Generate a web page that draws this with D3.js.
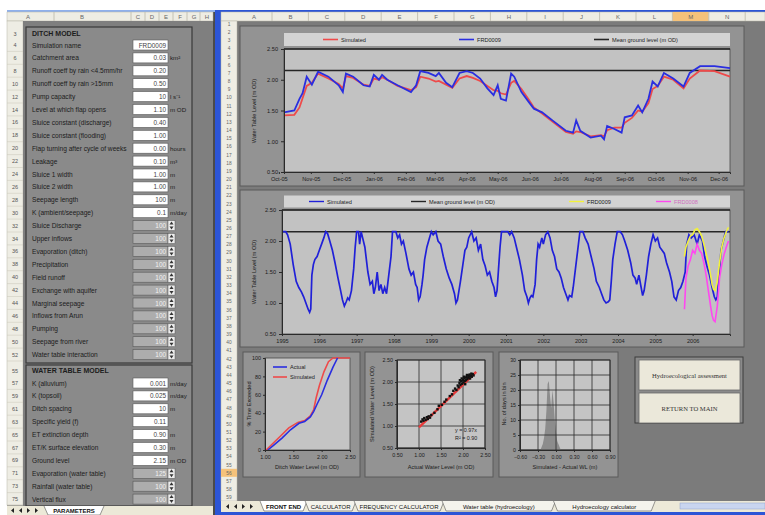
<!DOCTYPE html>
<html>
<head>
<meta charset="utf-8">
<script src="https://cdn.jsdelivr.net/npm/d3@7"></script>
<style>
  body { margin: 0; background: #ffffff; }
  svg { display: block; font-family: "Liberation Sans", Arial, sans-serif; }
</style>
</head>
<body>
<svg id="sheet" width="765" height="515"></svg>
<script>
// ---------------- data ----------------

// left sheet: ditch model parameters
var ditchLabels = ["Simulation name", "Catchment area", "Runoff coeff by rain <4.5mm/hr", "Runoff coeff by rain >15mm",
  "Pump capacity", "Level at which flap opens", "Sluice constant (discharge)", "Sluice constant (flooding)",
  "Flap turning after cycle of weeks", "Leakage", "Sluice 1 width", "Sluice 2 width", "Seepage length",
  "K (ambient/seepage)", "Sluice Discharge", "Upper inflows", "Evaporation (ditch)", "Precipitation",
  "Field runoff", "Exchange with aquifer", "Marginal seepage", "Inflows from Arun", "Pumping",
  "Seepage from river", "Water table interaction"];
var ditchValues = ["FRD0009", "0.03", "0.20", "0.50", "10", "1.10", "0.40", "1.00", "0.00", "0.10", "1.00", "1.00",
  "100", "0.1", "100", "100", "100", "100", "100", "100", "100", "100", "100", "100", "100"];
var ditchUnits = ["", "km\u00b2", "", "", "l s\u207b\u00b9", "m OD", "", "", "hours", "m\u00b3", "m", "m", "m", "m/day",
  "", "", "", "", "", "", "", "", "", "", ""];
var ditchSpinFrom = 14;

// left sheet: water table model parameters
var wtLabels = ["K (alluvium)", "K (topsoil)", "Ditch spacing", "Specific yield (f)", "ET extinction depth",
  "ET/K surface elevation", "Ground level", "Evaporation (water table)", "Rainfall (water table)", "Vertical flux"];
var wtValues = ["0.001", "0.025", "10", "0.11", "0.90", "0.30", "2.15", "125", "100", "100"];
var wtUnits = ["m/day", "m/day", "m", "", "m", "m", "m OD", "", "", ""];
var wtSpinFrom = 7;

var groundLevel = 2.15;

// chart 1: Oct-05 .. Dec-06
var recentDates = ["2005-10-06", "2005-10-16", "2005-10-21", "2005-10-24", "2005-10-28", "2005-11-02", "2005-11-08",
  "2005-11-18", "2005-11-28", "2005-12-02", "2005-12-05", "2005-12-12", "2005-12-22", "2005-12-28", "2006-01-01",
  "2006-01-06", "2006-01-09", "2006-01-14", "2006-01-24", "2006-02-06", "2006-02-11", "2006-02-15", "2006-02-23",
  "2006-03-02", "2006-03-05", "2006-03-12", "2006-03-18", "2006-03-25", "2006-04-01", "2006-04-07", "2006-04-14",
  "2006-04-21", "2006-04-27", "2006-05-01", "2006-05-04", "2006-05-09", "2006-05-14", "2006-05-17", "2006-05-24",
  "2006-05-31", "2006-06-05", "2006-06-13", "2006-06-23", "2006-07-06", "2006-07-13", "2006-07-16", "2006-07-20",
  "2006-07-30", "2006-08-09", "2006-08-12", "2006-08-15", "2006-08-22", "2006-08-29", "2006-09-01", "2006-09-08",
  "2006-09-14", "2006-09-18", "2006-09-24", "2006-09-28", "2006-10-03", "2006-10-09", "2006-10-18", "2006-10-28",
  "2006-11-03", "2006-11-13", "2006-11-27", "2006-12-12"];
var recentObserved = [1.47, 1.50, 1.69, 1.78, 2.05, 1.92, 2.13, 2.05, 1.91, 1.80, 2.10, 2.05, 1.91, 1.89, 2.08,
  2.00, 2.08, 2.00, 1.91, 1.80, 1.91, 2.14, 2.11, 2.06, 2.11, 1.95, 1.88, 2.11, 2.14, 2.11, 2.02,
  1.86, 1.75, 1.91, 1.69, 1.66, 2.10, 2.05, 1.80, 1.64, 1.53, 1.47, 1.34, 1.17, 1.14, 1.34, 1.17,
  1.06, 1.09, 1.03, 1.25, 1.20, 1.14, 1.39, 1.42, 1.58, 1.47, 1.69, 1.97, 1.89, 2.11, 2.02, 1.89,
  2.11, 2.22, 2.22, 2.19];
var recentSimulated = [1.42, 1.43, 1.55, 1.70, 1.90, 1.95, 2.10, 2.02, 1.93, 1.86, 2.06, 2.03, 1.92, 1.90, 2.02,
  2.00, 2.04, 2.00, 1.90, 1.83, 1.88, 2.05, 2.02, 1.97, 1.98, 1.92, 1.87, 2.02, 2.06, 2.03, 1.98,
  1.90, 1.83, 1.82, 1.78, 1.76, 1.95, 1.98, 1.85, 1.68, 1.55, 1.45, 1.32, 1.15, 1.12, 1.16, 1.15,
  1.08, 1.10, 1.08, 1.18, 1.22, 1.22, 1.30, 1.38, 1.50, 1.48, 1.62, 1.85, 1.90, 2.05, 2.00, 1.86,
  2.02, 2.15, 2.14, 2.05];

// chart 2: long simulation 1995 .. 2006 (decimal years)
var longYears = [1995.00, 1995.10, 1995.15, 1995.22, 1995.30, 1995.38, 1995.45, 1995.52, 1995.58, 1995.64, 1995.70,
  1995.74, 1995.77, 1995.80, 1995.84, 1995.88, 1995.94, 1996.00, 1996.06, 1996.12, 1996.17, 1996.22, 1996.28,
  1996.35, 1996.42, 1996.50, 1996.57, 1996.62, 1996.67, 1996.72, 1996.76, 1996.80, 1996.86, 1996.92, 1996.96,
  1997.00, 1997.05, 1997.08, 1997.12, 1997.16, 1997.22, 1997.30, 1997.36, 1997.42, 1997.46, 1997.50, 1997.55,
  1997.60, 1997.65, 1997.70, 1997.75, 1997.80, 1997.86, 1997.92, 1997.96, 1998.05, 1998.10, 1998.15, 1998.20,
  1998.25, 1998.32, 1998.40, 1998.46, 1998.52, 1998.58, 1998.62, 1998.66, 1998.70, 1998.75, 1998.78, 1998.82,
  1998.88, 1998.95, 1999.00, 1999.05, 1999.12, 1999.18, 1999.25, 1999.32, 1999.40, 1999.48, 1999.55, 1999.62,
  1999.66, 1999.70, 1999.74, 1999.78, 1999.84, 1999.90, 1999.95, 2000.00, 2000.08, 2000.14, 2000.20, 2000.26,
  2000.32, 2000.38, 2000.44, 2000.50, 2000.56, 2000.62, 2000.68, 2000.72, 2000.76, 2000.80, 2000.84, 2000.88,
  2000.95, 2001.05, 2001.10, 2001.15, 2001.22, 2001.28, 2001.36, 2001.44, 2001.50, 2001.56, 2001.60, 2001.64,
  2001.68, 2001.72, 2001.78, 2001.82, 2001.86, 2001.90, 2001.96, 2002.00, 2002.06, 2002.12, 2002.18, 2002.24,
  2002.30, 2002.36, 2002.42, 2002.48, 2002.54, 2002.60, 2002.66, 2002.70, 2002.76, 2002.80, 2002.86, 2002.92,
  2002.98, 2003.06, 2003.12, 2003.20, 2003.28, 2003.36, 2003.42, 2003.50, 2003.56, 2003.62, 2003.68, 2003.74,
  2003.78, 2003.82, 2003.86, 2003.92, 2003.98, 2004.06, 2004.12, 2004.18, 2004.26, 2004.34, 2004.40, 2004.46,
  2004.50, 2004.56, 2004.62, 2004.66, 2004.70, 2004.76, 2004.82, 2004.88, 2004.94, 2005.00, 2005.06, 2005.12,
  2005.18, 2005.24, 2005.30, 2005.38, 2005.44, 2005.50, 2005.56, 2005.62, 2005.68, 2005.74, 2005.80, 2005.84,
  2005.90, 2005.96, 2006.04, 2006.12, 2006.18, 2006.26, 2006.32, 2006.38, 2006.45, 2006.52, 2006.58, 2006.62,
  2006.66, 2006.70, 2006.76, 2006.82, 2006.88, 2006.96];
var longSimulated = [2.15, 2.15, 2.10, 1.95, 1.62, 1.35, 1.25, 1.18, 1.10, 1.00, 0.90,
  0.85, 0.90, 1.45, 1.62, 1.70, 1.75, 1.85, 1.95, 2.05, 2.15, 2.12, 2.00,
  1.85, 1.65, 1.40, 1.20, 1.05, 0.95, 1.02, 1.08, 1.05, 1.20, 1.55, 1.90,
  2.15, 2.15, 1.95, 2.15, 2.05, 1.90, 1.50, 1.30, 1.35, 1.15, 1.25, 1.50,
  1.20, 1.30, 1.15, 1.25, 1.15, 1.45, 1.75, 2.15, 2.15, 2.05, 2.10, 1.95,
  2.00, 1.80, 1.55, 1.45, 1.50, 1.30, 1.25, 1.05, 1.10, 1.30, 1.45, 1.70,
  1.90, 2.05, 2.15, 2.10, 2.15, 2.00, 1.95, 1.75, 1.55, 1.40, 1.30, 1.15,
  1.00, 1.05, 1.20, 1.35, 1.60, 1.85, 1.90, 2.05, 2.15, 2.00, 2.05, 1.85,
  1.95, 1.70, 1.60, 1.45, 1.50, 1.35, 1.25, 1.10, 1.20, 1.55, 1.90, 2.15,
  2.15, 2.15, 2.10, 2.15, 2.05, 1.90, 1.70, 1.45, 1.20, 1.10, 1.00, 1.08,
  1.12, 1.10, 1.30, 1.70, 1.95, 1.90, 2.05, 1.95, 2.10, 2.15, 2.05, 1.85,
  1.75, 1.55, 1.50, 1.40, 1.25, 1.15, 1.05, 1.12, 1.10, 1.25, 1.55, 1.85,
  2.15, 2.15, 2.05, 1.95, 1.75, 1.55, 1.35, 1.25, 1.15, 1.05, 1.00, 1.02,
  1.05, 1.35, 1.70, 1.95, 2.15, 2.15, 2.10, 2.00, 1.85, 1.65, 1.45, 1.40,
  1.30, 1.45, 1.25, 1.12, 1.20, 1.45, 1.75, 1.95, 2.10, 2.00, 2.05, 1.90,
  1.85, 1.80, 1.65, 1.50, 1.35, 1.10, 1.05, 1.20, 1.25, 1.35, 1.50, 1.95,
  2.10, 2.05, 2.10, 1.95, 2.10, 2.00, 1.75, 1.60, 1.45, 1.25, 1.10, 1.05,
  1.10, 1.40, 1.85, 2.00, 2.15, 2.15];
var boreYears = [2005.78, 2005.82, 2005.88, 2005.94, 2006.00, 2006.06, 2006.12, 2006.18, 2006.24, 2006.30, 2006.36,
  2006.42, 2006.48, 2006.52, 2006.56, 2006.60, 2006.66, 2006.72, 2006.78, 2006.84, 2006.90, 2006.96];
var boreA = [1.75, 1.90, 2.00, 2.08, 2.10, 2.18, 2.20, 2.15, 2.08, 1.95, 1.80,
  1.65, 1.45, 1.30, 1.22, 1.20, 1.35, 1.65, 1.90, 2.05, 2.15, 2.22];
var boreB = [0.90, 1.40, 1.60, 1.70, 1.85, 1.80, 1.95, 1.85, 1.80, 1.65, 1.45,
  1.20, 0.95, 0.80, 0.72, 0.70, 0.95, 1.40, 1.62, 1.78, 1.90, 2.00];

// chart 3: exceedance curves
var excActualLevel = [1.05, 1.15, 1.30, 1.45, 1.60, 1.70, 1.80, 1.86, 1.92, 2.00, 2.10, 2.20, 2.28];
var excActualPct = [0, 5, 13, 22, 29, 31, 36, 42, 50, 60, 76, 90, 100];
var excSimLevel = [1.02, 1.12, 1.27, 1.42, 1.58, 1.70, 1.80, 1.86, 1.90, 1.96, 2.04, 2.12, 2.20, 2.50];
var excSimPct = [0, 6, 15, 24, 30, 32, 37, 44, 56, 70, 85, 96, 100, 100];

// chart 4: actual vs simulated scatter
var scatActual = [1.05, 1.08, 1.10, 1.12, 1.15, 1.18, 1.20, 1.22, 1.25, 1.28, 1.35, 1.42, 1.45, 1.52, 1.58, 1.62,
  1.70, 1.75, 1.78, 1.82, 1.85, 1.88, 1.90, 1.92, 1.94, 1.96, 1.98, 2.00, 2.01, 2.03, 2.04, 2.06, 2.07, 2.08,
  2.10, 2.11, 2.12, 2.14, 2.15, 2.16, 2.18, 2.19, 2.20, 2.22, 2.24, 1.97, 2.02, 2.05, 1.93, 2.09];
var scatSimulated = [1.10, 1.15, 1.12, 1.18, 1.14, 1.20, 1.16, 1.22, 1.19, 1.25, 1.30, 1.38, 1.46, 1.48, 1.55, 1.60,
  1.68, 1.72, 1.80, 1.85, 1.82, 1.92, 1.88, 1.98, 1.93, 2.02, 1.96, 2.05, 1.99, 2.08, 2.02, 2.10, 2.04, 2.12,
  2.07, 2.15, 2.10, 2.13, 2.17, 2.08, 2.14, 2.19, 2.12, 2.18, 2.15, 2.08, 2.12, 1.95, 2.04, 2.16];
var fitSlope = 0.97;
var fitRange = [1.0, 2.3];

// chart 5: residual histogram
var residBins = [-0.26, -0.24, -0.22, -0.20, -0.18, -0.16, -0.14, -0.12, -0.10, -0.08, -0.06, -0.04, -0.02,
  0.00, 0.02, 0.04, 0.06, 0.08];
var residCounts = [0, 1, 2, 4, 7, 13, 22, 23, 18, 14, 20, 16, 10, 6, 3, 2, 1, 0];

// sheet furniture
var rightCols = ["A", "B", "C", "D", "E", "F", "G", "H", "I", "J", "K", "L", "M", "N"];
var leftCols = ["A", "B", "C", "D", "E", "F", "G", "H"];
var tabNames = ["FRONT END", "CALCULATOR", "FREQUENCY CALCULATOR", "Water table (hydroecology)", "Hydroecology calculator"];

// ---------------- drawing ----------------
var svg = d3.select("#sheet");
var parseDate = d3.timeParse("%Y-%m-%d");

function rect(g, x, y, w, h, fill, stroke, sw) {
  return g.append("rect")
    .attr("x", x).attr("y", y).attr("width", w).attr("height", h)
    .attr("fill", fill)
    .attr("stroke", stroke || "none")
    .attr("stroke-width", sw || 1);
}

function text(g, x, y, t, size, anchor, color, weight) {
  return g.append("text")
    .attr("x", x).attr("y", y)
    .attr("font-size", size)
    .attr("text-anchor", anchor || "start")
    .attr("fill", color || "#1c1c1c")
    .attr("font-weight", weight || "normal")
    .text(t);
}

function styleAxis(sel, size) {
  sel.attr("font-size", size).attr("font-family", null);
  sel.selectAll("text").attr("fill", "#1c1c1c");
  sel.selectAll("line").attr("stroke", "#2a2a2a");
  sel.select(".domain").attr("stroke", "#2a2a2a");
}

// ---------- windows ----------
rect(svg, 7, 10, 208, 505, "#7d7d7d");
rect(svg, 7, 10, 208, 2, "#8fb0ec");
rect(svg, 216, 10, 549, 505, "#7b7b7b");
rect(svg, 216, 10, 549, 2, "#2c55d6");
rect(svg, 215, 10, 6, 505, "#2c55d6");
rect(svg, 213, 12, 2, 503, "#4a4a4a");

// left column headers + row headers
var lh = svg.append("g");
rect(lh, 7, 12, 206, 9, "#eeede4", "#b8b6a8", 0.5);
rect(lh, 7, 21, 16, 484, "#eeede4", "#b8b6a8", 0.5);
var leftColX = [28, 82, 138, 152, 166, 180, 194, 207];
leftCols.forEach(function(c, i) {
  text(lh, leftColX[i], 19, c, 6, "middle", "#666");
  if (i > 0) lh.append("line").attr("x1", leftColX[i] - (i == 1 ? 28 : 7)).attr("x2", leftColX[i] - (i == 1 ? 28 : 7))
    .attr("y1", 12).attr("y2", 21).attr("stroke", "#c4c2b4");
});

// right column headers + row headers
var rh = svg.append("g");
rect(rh, 221, 12, 544, 9, "#eeede4", "#b8b6a8", 0.5);
rect(rh, 221, 21, 16, 480, "#eeede4", "#b8b6a8", 0.5);
rightCols.forEach(function(c, i) {
  var cx = 254 + i * 36.4;
  if (c == "M") rect(rh, cx - 18, 12, 36, 9, "#f5c27a");
  rh.append("line").attr("x1", cx + 18).attr("x2", cx + 18).attr("y1", 12).attr("y2", 21).attr("stroke", "#c4c2b4");
  text(rh, cx, 19, c, 6, "middle", "#666");
});
d3.range(1, 60).forEach(function(r) {
  var ry = 24 + (r - 1) * 8.16;
  if (r == 56) rect(rh, 221, ry - 4, 16, 8, "#f5c27a");
  text(rh, 229, ry + 2, r, 4.8, "middle", "#666");
});

// ---------- left parameter panels ----------
var lp = svg.append("g");
rect(lp, 23, 21, 190, 484, "#7f7f7f");
rect(lp, 26, 27, 166, 336, "#8a8a8a", "#3a3a3a", 1.2);
rect(lp, 26, 365, 166, 141, "#8a8a8a", "#3a3a3a", 1.2);
text(lp, 32, 36, "DITCH MODEL", 7, "start", "#1c1c1c", "bold");
text(lp, 32, 373, "WATER TABLE MODEL", 7, "start", "#1c1c1c", "bold");
text(lp, 15, 36, 3, 5.5, "middle", "#555");
text(lp, 15, 373, 55, 5.5, "middle", "#555");

function paramRows(labels, values, units, top, spinFrom, firstRow) {
  labels.forEach(function(t, i) {
    var ry = top + i * 12.9;
    var spin = i >= spinFrom;
    text(lp, 15, ry + 2, firstRow + 2 * i, 5.5, "middle", "#555");
    lp.append("line").attr("x1", 7).attr("x2", 23).attr("y1", ry + 6.4).attr("y2", ry + 6.4).attr("stroke", "#c9c7b9").attr("stroke-width", 0.5);
    text(lp, 32, ry + 2.5, t, 6.6, "start", "#1c1c1c");
    rect(lp, 133, ry - 5, 35, 10, spin ? "#adadad" : "#ffffff", "#5a5a5a", 0.6);
    text(lp, 166, ry + 2.5, values[i], 6.4, "end", spin ? "#f2f2f2" : "#444");
    if (spin) {
      rect(lp, 168, ry - 5, 7, 10, "#eeeeee", "#5a5a5a", 0.5);
      lp.append("path").attr("d", "M169.5," + (ry - 1) + "l2,-3l2,3z").attr("fill", "#333");
      lp.append("path").attr("d", "M169.5," + (ry + 1) + "l2,3l2,-3z").attr("fill", "#333");
    }
    if (units[i]) text(lp, 170, ry + 2.5, units[i], 6.2, "start", "#1c1c1c");
  });
}
paramRows(ditchLabels, ditchValues, ditchUnits, 45, ditchSpinFrom, 4);
paramRows(wtLabels, wtValues, wtUnits, 383, wtSpinFrom, 57);

// left tab bar
var lt = svg.append("g");
rect(lt, 7, 506, 206, 9, "#ece9d8");
[11, 19, 27, 35].forEach(function(ax, i) {
  lt.append("path").attr("d", i < 2 ? "M" + (ax + 3) + ",508l-3,2.5l3,2.5z" : "M" + ax + ",508l3,2.5l-3,2.5z").attr("fill", "#222");
});
lt.append("path").attr("d", "M44,506l4,9h52l4,-9").attr("fill", "#ffffff").attr("stroke", "#555").attr("stroke-width", 0.6);
text(lt, 74, 513, "PARAMETERS", 6, "middle", "#111", "bold");

// ---------- chart 1: recent period ----------
var c1 = svg.append("g");
rect(c1, 240, 26, 504, 160, "#939393", "#5a5a5a", 1);
rect(c1, 284, 33, 446, 13, "#d3d3d3");
rect(c1, 284, 49, 446, 123, "#c2c2c2", "#4a4a4a", 0.8);

var x1 = d3.scaleTime()
  .domain([parseDate("2005-10-06"), parseDate("2006-12-12")])
  .range([284, 730]);
var y1 = d3.scaleLinear().domain([0.5, 2.5]).range([172, 49]);

var recent = recentDates.map(function(d, i) {
  return { date: parseDate(d), obs: recentObserved[i], sim: recentSimulated[i] };
});

c1.append("line").attr("x1", 284).attr("x2", 730).attr("y1", y1(2.5)).attr("y2", y1(2.5))
  .attr("stroke", "#222").attr("stroke-width", 1.5);
c1.append("line").attr("x1", 284).attr("x2", 730).attr("y1", y1(groundLevel)).attr("y2", y1(groundLevel))
  .attr("stroke", "#262626").attr("stroke-width", 1.4);

c1.append("path").datum(recent)
  .attr("d", d3.line().x(d => x1(d.date)).y(d => y1(d.sim)))
  .attr("fill", "none").attr("stroke", "#ee4a4a").attr("stroke-width", 1.8);
c1.append("path").datum(recent)
  .attr("d", d3.line().x(d => x1(d.date)).y(d => y1(d.obs)))
  .attr("fill", "none").attr("stroke", "#2a2ee0").attr("stroke-width", 1.8);

var ax1 = c1.append("g").attr("transform", "translate(0,172)")
  .call(d3.axisBottom(x1)
    .tickValues(d3.timeMonth.range(parseDate("2005-10-01"), parseDate("2006-12-02")))
    .tickFormat(d3.timeFormat("%b-%y")).tickSize(2).tickPadding(3));
styleAxis(ax1, 5.6);
var ay1 = c1.append("g").attr("transform", "translate(284,0)")
  .call(d3.axisLeft(y1).tickValues([0.5, 1, 1.5, 2, 2.5]).tickFormat(d3.format(".2f")).tickSize(3).tickPadding(3));
styleAxis(ay1, 5.6);
text(c1, 0, 0, "Water Table Level (m OD)", 5.6, "middle")
  .attr("transform", "translate(256,111) rotate(-90)");

// legend
[[323, "#ee4a4a", "Simulated"], [459, "#2a2ee0", "FRD0009"], [594, "#262626", "Mean ground level (m OD)"]].forEach(function(l) {
  c1.append("line").attr("x1", l[0]).attr("x2", l[0] + 15).attr("y1", 39.5).attr("y2", 39.5)
    .attr("stroke", l[1]).attr("stroke-width", 1.6);
  text(c1, l[0] + 18, 41.5, l[2], 5.6);
});

// ---------- chart 2: long simulation ----------
var c2 = svg.append("g");
rect(c2, 240, 190, 504, 157, "#939393", "#5a5a5a", 1);
rect(c2, 284, 195.5, 446, 12, "#d3d3d3");
rect(c2, 282, 210, 448, 124, "#c2c2c2", "#4a4a4a", 0.8);

var x2 = d3.scaleLinear().domain([1995, 2007]).range([282, 730]);
var y2 = d3.scaleLinear().domain([0.5, 2.5]).range([334, 210]);

c2.append("line").attr("x1", 282).attr("x2", 730).attr("y1", y2(2.5)).attr("y2", y2(2.5))
  .attr("stroke", "#222").attr("stroke-width", 1.5);
c2.append("line").attr("x1", 282).attr("x2", 730).attr("y1", y2(groundLevel)).attr("y2", y2(groundLevel))
  .attr("stroke", "#262626").attr("stroke-width", 1.4);

var lineLong = d3.line().x(d => x2(d[0])).y(d => y2(d[1]));
c2.append("path").datum(d3.zip(longYears, longSimulated))
  .attr("d", lineLong).attr("fill", "none").attr("stroke", "#2020d8").attr("stroke-width", 1.7);
c2.append("path").datum(d3.zip(boreYears, boreB))
  .attr("d", lineLong).attr("fill", "none").attr("stroke", "#ff48f0").attr("stroke-width", 1.6);
c2.append("path").datum(d3.zip(boreYears, boreA))
  .attr("d", lineLong).attr("fill", "none").attr("stroke", "#f2f23a").attr("stroke-width", 1.6);

var ax2 = c2.append("g").attr("transform", "translate(0,334)")
  .call(d3.axisBottom(x2).tickValues(d3.range(1995, 2007)).tickFormat(d3.format("d")).tickSize(2).tickPadding(3));
styleAxis(ax2, 5.6);
var ay2 = c2.append("g").attr("transform", "translate(282,0)")
  .call(d3.axisLeft(y2).tickValues([0.5, 1, 1.5, 2, 2.5]).tickFormat(d3.format(".2f")).tickSize(3).tickPadding(3));
styleAxis(ay2, 5.6);
text(c2, 0, 0, "Water Table Level (m OD)", 5.6, "middle")
  .attr("transform", "translate(256,272) rotate(-90)");

[[309, "#2020d8", "Simulated", "#1c1c1c"], [411, "#262626", "Mean ground level (m OD)", "#1c1c1c"],
 [569, "#f2f23a", "FRD0009", "#1c1c1c"], [656, "#ff48f0", "FRD0008", "#d070c0"]].forEach(function(l) {
  c2.append("line").attr("x1", l[0]).attr("x2", l[0] + 15).attr("y1", 201.5).attr("y2", 201.5)
    .attr("stroke", l[1]).attr("stroke-width", 1.4);
  text(c2, l[0] + 18, 203.5, l[2], 5.6, "start", l[3]);
});

// ---------- chart 3: exceedance ----------
var c3 = svg.append("g");
rect(c3, 243, 352, 117, 125, "#939393", "#5a5a5a", 1);
var x3 = d3.scaleLinear().domain([1, 2.5]).range([265, 350]);
var y3 = d3.scaleLinear().domain([0, 100]).range([450, 358]);
rect(c3, 265, 358, 85, 92, "#c4c4c4", "#4a4a4a", 0.8);
var lineExc = d3.line().x(d => x3(d[0])).y(d => y3(d[1]));
c3.append("path").datum(d3.zip(excSimLevel, excSimPct))
  .attr("d", lineExc).attr("fill", "none").attr("stroke", "#ee4a4a").attr("stroke-width", 1.6);
c3.append("path").datum(d3.zip(excActualLevel, excActualPct))
  .attr("d", lineExc).attr("fill", "none").attr("stroke", "#2a2ee0").attr("stroke-width", 1.6);
var ax3 = c3.append("g").attr("transform", "translate(0,450)")
  .call(d3.axisBottom(x3).tickValues([1, 1.5, 2, 2.5]).tickFormat(d3.format(".2f")).tickSize(2).tickPadding(3));
styleAxis(ax3, 5.4);
var ay3 = c3.append("g").attr("transform", "translate(265,0)")
  .call(d3.axisLeft(y3).tickValues([0, 20, 40, 60, 80, 100]).tickSize(2).tickPadding(2));
styleAxis(ay3, 5.4);
text(c3, 307, 469, "Ditch Water Level (m OD)", 5.6, "middle");
text(c3, 0, 0, "% Time Exceeded", 5.6, "middle").attr("transform", "translate(251,404) rotate(-90)");
[[367, "#2a2ee0", "Actual"], [377, "#ee4a4a", "Simulated"]].forEach(function(l) {
  c3.append("line").attr("x1", 273).attr("x2", 287).attr("y1", l[0]).attr("y2", l[0])
    .attr("stroke", l[1]).attr("stroke-width", 1.6);
  text(c3, 290, l[0] + 2, l[2], 5.6);
});

// ---------- chart 4: scatter ----------
var c4 = svg.append("g");
rect(c4, 365, 352, 128, 125, "#939393", "#5a5a5a", 1);
var x4 = d3.scaleLinear().domain([0.5, 2.5]).range([397, 485]);
var y4 = d3.scaleLinear().domain([0.5, 2.5]).range([448, 360]);
rect(c4, 397, 360, 88, 88, "#c4c4c4", "#2a2a2a", 0.8);
[0.5, 1, 1.5, 2, 2.5].forEach(function(v) {
  c4.append("line").attr("x1", x4(v)).attr("x2", x4(v)).attr("y1", 360).attr("y2", 448).attr("stroke", "#2a2a2a").attr("stroke-width", 0.8);
  c4.append("line").attr("x1", 397).attr("x2", 485).attr("y1", y4(v)).attr("y2", y4(v)).attr("stroke", "#2a2a2a").attr("stroke-width", 0.8);
});
c4.append("line")
  .attr("x1", x4(fitRange[0])).attr("y1", y4(fitRange[0] * fitSlope))
  .attr("x2", x4(fitRange[1])).attr("y2", y4(fitRange[1] * fitSlope))
  .attr("stroke", "#e83a3a").attr("stroke-width", 2.4);
c4.selectAll("rect.pt").data(d3.zip(scatActual, scatSimulated)).enter()
  .append("rect").attr("class", "pt")
  .attr("x", d => x4(d[0]) - 1.2).attr("y", d => y4(d[1]) - 1.2)
  .attr("width", 2.4).attr("height", 2.4).attr("fill", "#111");
var ax4 = c4.append("g").attr("transform", "translate(0,448)")
  .call(d3.axisBottom(x4).tickValues([0.5, 1, 1.5, 2, 2.5]).tickFormat(d3.format(".2f")).tickSize(2).tickPadding(3));
styleAxis(ax4, 5.4);
var ay4 = c4.append("g").attr("transform", "translate(397,0)")
  .call(d3.axisLeft(y4).tickValues([0.5, 1, 1.5, 2, 2.5]).tickFormat(d3.format(".2f")).tickSize(2).tickPadding(2));
styleAxis(ay4, 5.4);
text(c4, 441, 469, "Actual Water Level (m OD)", 5.6, "middle");
text(c4, 0, 0, "Simulated Water Level (m OD)", 5.6, "middle").attr("transform", "translate(374,404) rotate(-90)");
text(c4, 455, 432, "y = " + fitSlope + "x", 5.4);
text(c4, 455, 440, "R\u00b2 = 0.90", 5.4);

// ---------- chart 5: residual histogram ----------
var c5 = svg.append("g");
rect(c5, 499, 352, 119, 125, "#939393", "#5a5a5a", 1);
var x5 = d3.scaleLinear().domain([-0.6, 0.9]).range([520, 610]);
var y5 = d3.scaleLinear().domain([0, 30]).range([450, 360]);
rect(c5, 520, 360, 90, 90, "#c4c4c4", "#2a2a2a", 0.8);
c5.append("path").datum(d3.zip(residBins, residCounts))
  .attr("d", d3.area().x(d => x5(d[0])).y0(450).y1(d => y5(d[1])))
  .attr("fill", "#8c8c8c");
[-0.6, -0.3, 0, 0.3, 0.6, 0.9].forEach(function(v) {
  c5.append("line").attr("x1", x5(v)).attr("x2", x5(v)).attr("y1", 360).attr("y2", 450).attr("stroke", "#2a2a2a").attr("stroke-width", 0.8);
});
[0, 5, 10, 15, 20, 25, 30].forEach(function(v) {
  c5.append("line").attr("x1", 520).attr("x2", 610).attr("y1", y5(v)).attr("y2", y5(v)).attr("stroke", "#2a2a2a").attr("stroke-width", 0.8);
});
var ax5 = c5.append("g").attr("transform", "translate(0,450)")
  .call(d3.axisBottom(x5).tickValues([-0.6, -0.3, 0, 0.3, 0.6, 0.9]).tickFormat(d3.format(".2f")).tickSize(2).tickPadding(3));
styleAxis(ax5, 5.2);
var ay5 = c5.append("g").attr("transform", "translate(520,0)")
  .call(d3.axisLeft(y5).tickValues([0, 5, 10, 15, 20, 25, 30]).tickSize(2).tickPadding(2));
styleAxis(ay5, 5.2);
text(c5, 565, 469, "Simulated - Actual WL (m)", 5.6, "middle");
text(c5, 0, 0, "No. of days in bin", 5.6, "middle").attr("transform", "translate(506,404) rotate(-90)");

// ---------- buttons ----------
var bt = svg.append("g");
rect(bt, 635, 357, 108, 66, "#8a8a8a", "#3c3c3c", 1);
[[639, 360, "Hydroecological assessment"], [639, 393, "RETURN TO MAIN"]].forEach(function(b) {
  rect(bt, b[0], b[1], 101, 30, "#ebe8da", "#6a6a6a", 0.8);
  text(bt, b[0] + 50.5, b[1] + 17.5, b[2], 6.6, "middle", "#333")
    .attr("font-family", "'Liberation Serif', serif");
});

// ---------- right tab bar ----------
var tb = svg.append("g");
rect(tb, 221, 501, 544, 11, "#ece9d8");
rect(tb, 216, 512, 549, 3, "#2c55d6");
[226, 234, 242, 250].forEach(function(ax, i) {
  tb.append("path").attr("d", i < 2 ? "M" + (ax + 3) + ",504l-3,2.5l3,2.5z" : "M" + ax + ",504l3,2.5l-3,2.5z").attr("fill", "#222");
});
var tabX = 260;
tabNames.forEach(function(n, i) {
  var w = n.length * 3.9 + 12;
  tb.append("path").attr("d", "M" + tabX + ",501l4,10h" + (w - 8) + "l4,-10")
    .attr("fill", i == 0 ? "#ffffff" : "#f4f3ec").attr("stroke", "#555").attr("stroke-width", 0.6);
  text(tb, tabX + w / 2, 509, n, 6, "middle", "#111", i == 0 ? "bold" : "normal");
  tabX += w - 2;
});
rect(tb, 680, 503, 85, 6, "#c9d5ef", "#8fa2cc", 0.5);
</script>
</body>
</html>
